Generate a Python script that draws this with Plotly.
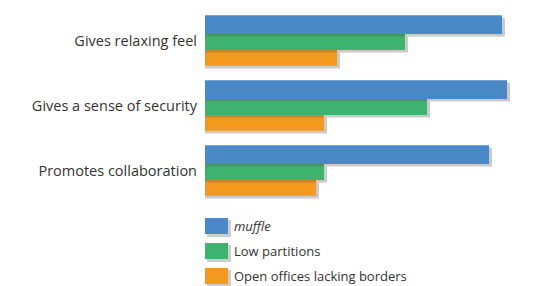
import plotly.graph_objects as go

categories = ["Gives relaxing feel", "Gives a sense of security", "Promotes collaboration"]
series_names = ["muffle", "Low partitions", "Open offices lacking borders"]
muffle = [297, 302, 284]
low_partitions = [200, 222, 119]
open_offices = [132, 119, 111]

colors = ["#4A89C8", "#3DB36F", "#F39A1E"]
values = [muffle, low_partitions, open_offices]
offsets = [-0.39, -0.10, 0.145]
widths = [0.29, 0.245, 0.245]

W, H = 537, 286
L, R, T, B = 205, 0, 8, 83
PW, PH = W - L - R, H - T - B
FONT = "Open Sans, Noto Sans, sans-serif"

fig = go.Figure()
# draw order: orange, green, blue (each with its shadow first)
for i in [2, 1, 0]:
    fig.add_trace(go.Bar(
        y=categories, x=[v + 3 for v in values[i]], orientation="h",
        offset=offsets[i] + 0.04, width=widths[i],
        marker=dict(color="rgba(90,90,90,0.32)", line=dict(width=0)),
        showlegend=False, hoverinfo="skip"))
    fig.add_trace(go.Bar(
        y=categories, x=values[i], orientation="h", name=series_names[i],
        offset=offsets[i], width=widths[i],
        marker=dict(color=colors[i], line=dict(width=0)),
        showlegend=False))

def px_x(x):
    return (x - L) / PW

def px_y(y):
    return (T + PH - y) / PH

shapes, annots = [], []
legend_tops = [218, 243, 268]
for i, name in enumerate(series_names):
    top = legend_tops[i]
    shapes.append(dict(type="rect", xref="paper", yref="paper",
                       x0=px_x(207), x1=px_x(231), y0=px_y(top + 2), y1=px_y(top + 19),
                       fillcolor="rgba(90,90,90,0.3)", line=dict(width=0)))
    shapes.append(dict(type="rect", xref="paper", yref="paper",
                       x0=px_x(205), x1=px_x(228), y0=px_y(top), y1=px_y(top + 16),
                       fillcolor=colors[i], line=dict(width=0)))
    text = f"<i>{name}</i>" if i == 0 else name
    annots.append(dict(xref="paper", yref="paper", x=px_x(232), y=px_y(top + 8),
                       xanchor="left", yanchor="middle", text=text, showarrow=False,
                       font=dict(family=FONT, size=13, color="#333333")))

fig.update_layout(
    width=W, height=H,
    margin=dict(l=L, r=R, t=T, b=B, autoexpand=False),
    barmode="overlay",
    plot_bgcolor="white", paper_bgcolor="white",
    showlegend=False,
    xaxis=dict(range=[0, PW], visible=False, showgrid=False, zeroline=False),
    yaxis=dict(type="category", categoryorder="array", categoryarray=categories,
               range=[2.5, -0.5], showgrid=False, zeroline=False, showline=False,
               ticks="", ticklabelstandoff=7,
               tickfont=dict(family=FONT, size=14.5, color="#333333")),
    shapes=shapes, annotations=annots,
)

fig.write_html("out.html", config={"displayModeBar": False},
               post_script="document.body.style.margin='0';document.body.style.overflow='hidden';")
